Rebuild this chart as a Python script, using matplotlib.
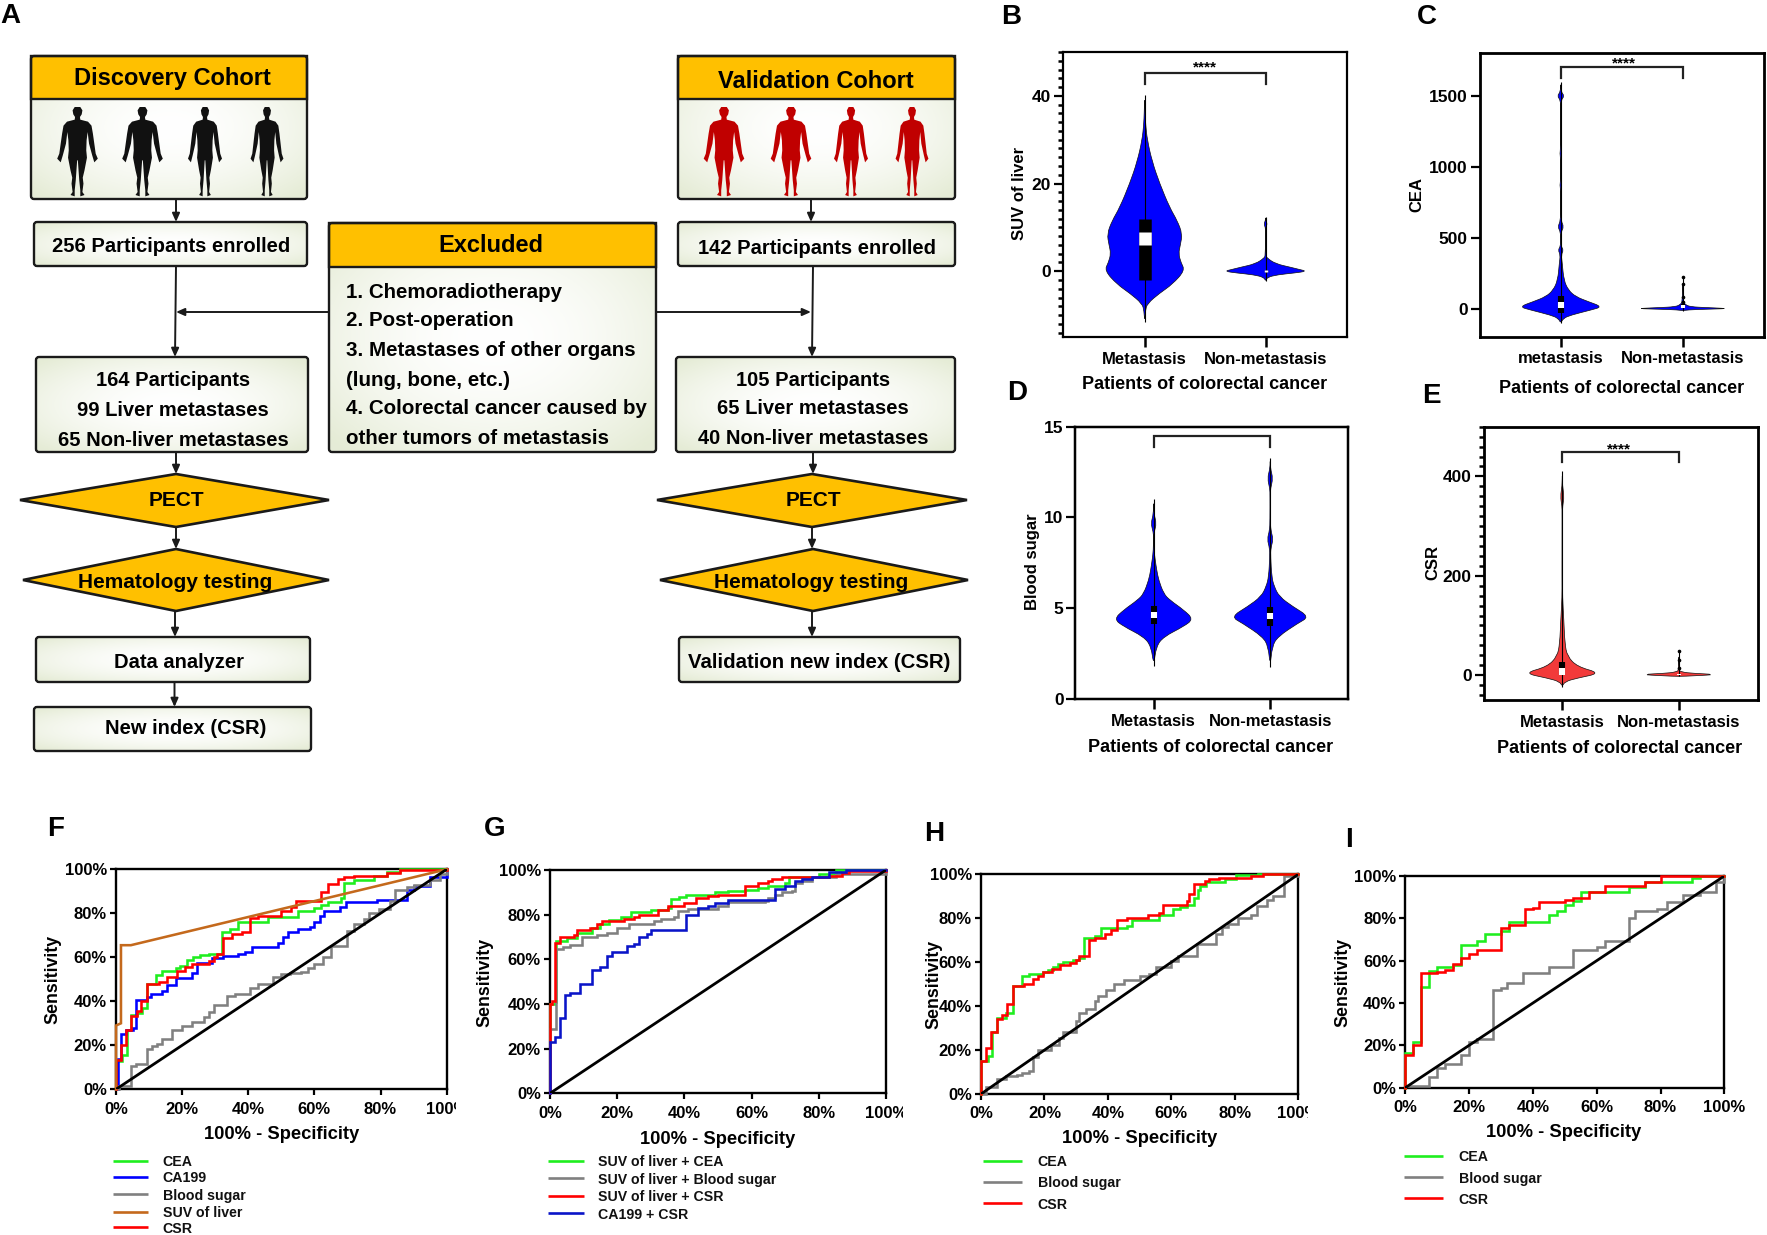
import numpy as np
import matplotlib
matplotlib.use('Agg')
import matplotlib.pyplot as plt
from matplotlib.patches import FancyBboxPatch, Rectangle, Polygon, PathPatch
from matplotlib.path import Path
from matplotlib.ticker import MultipleLocator

plt.rcParams['font.family'] = ['Liberation Sans', 'DejaVu Sans']
plt.rcParams['font.weight'] = 'bold'
plt.rcParams['axes.labelweight'] = 'bold'

W, H = 1767, 1235

# ---------- DATA: violins (value, half width in category units) ----------
cat_labels = ['Metastasis', 'Non-metastasis']
cat_labels_c = ['metastasis', 'Non-metastasis']

b1_y = [40.3, 36, 33.5, 30, 25, 20, 14.5, 11.5, 8.5, 6, 4, 2, 0.15, -3, -5, -7.4, -9, -11.6]
b1_w = [0, .004, .008, .021, .062, .124, .207, .27, .311, .295, .28, .30, .332, .228, .124, .021, .006, 0]
b2_y = [12.4, 11.5, 10.8, 10, 9, 3.6, 3.0, 1.7, 0.9, 0.4, 0, -0.4, -0.8, -1.4, -2.3]
b2_w = [0, .002, .014, .002, .001, .002, .012, .083, .207, .28, .34, .24, .1, .012, 0]
b1_box = (-1.9, 11.8, 6.0, 8.9)
b2_box = (-0.25, 0.25, -0.25, 0.25)

c1_y = [1600, 1530, 1500, 1470, 1400, 1130, 1095, 1060, 900, 872, 840, 720, 620, 578, 540, 484, 440, 414, 380, 320, 202, 131, 85, 50, 14, -9, -45, -68, -103]
c1_w = [0, .002, .03, .002, .001, .001, .008, .001, .001, .008, .001, .002, .002, .025, .002, .003, .003, .022, .004, .012, .025, .062, .123, .226, .34, .247, .082, .02, 0]
c2_y = [226, 50, 30, 14, 8, 3, 0, -3, -8, -14]
c2_w = [.001, .003, .02, .06, .2, .34, .34, .2, .04, 0]
c2_dots = [226, 175, 80, 50]
c1_box = (-28, 90, 2, 50)
c2_box = (5, 30, 8, 25)

d1_y = [11.0, 10.2, 9.67, 9.2, 8.9, 8.2, 7.66, 7.1, 6.55, 5.8, 5.45, 4.9, 4.4, 4.0, 3.43, 2.9, 1.84]
d1_w = [0, .002, .024, .004, .002, .003, .013, .026, .043, .086, .138, .259, .34, .259, .086, .022, 0]
d2_y = [13.25, 12.7, 12.15, 11.6, 11.2, 9.86, 9.3, 8.8, 8.3, 7.84, 6.74, 6.2, 5.64, 5.09, 4.53, 4.17, 3.43, 2.9, 1.78]
d2_w = [0, .002, .024, .003, .002, .002, .005, .026, .005, .004, .013, .034, .078, .194, .336, .237, .065, .017, 0]
d1_box = (4.13, 5.14, 4.46, 4.77)
d2_box = (4.02, 5.05, 4.42, 4.74)

e1_y = [410, 380, 360, 340, 326, 192, 158, 111, 64, 38, 17, 4, -6, -13, -23]
e1_w = [0, .002, .016, .003, .002, .003, .002, .013, .022, .043, .129, .33, .129, .022, 0]
e2_y = [48, 10, 7.4, 4, 1.3, -1.3, -2.7]
e2_w = [.001, .003, .013, .086, .34, .129, 0]
e2_dots = [48, 30, 15]
e1_box = (0, 26, 0.7, 14)
e2_box = (1, 3, 1, 3)

# ---------- DATA: ROC curves ----------
f_cea_x = [0, 0, 1.7, 3.2, 4.4, 6.2, 7.8, 9.3, 12, 13.8, 18, 19.4, 21.4, 23.4, 25.4, 28, 32.2, 34.5, 37, 46, 55, 60, 62, 64, 68, 69, 72, 78, 82, 86, 100]
f_cea_y = [0, 13, 15.6, 27, 34, 34.5, 37, 48, 52, 54, 55, 56, 59, 60, 61, 61.5, 71.7, 73, 76, 78.5, 81, 82.3, 84, 85, 87, 93.6, 95, 97, 99, 100, 100]
f_ca_x = [0, 0.5, 1.4, 3, 5, 6, 9.5, 10.5, 14, 15.5, 18, 23, 24.5, 29, 32.5, 37, 39, 41, 49, 50.6, 52, 55, 58.7, 60, 61.7, 63, 67.7, 69.6, 79, 88, 90, 95, 100]
f_ca_y = [0, 14, 25, 27, 28, 40.5, 42, 43.5, 44.5, 47.5, 50.5, 53, 57.5, 59.5, 60.5, 61.5, 62.5, 64.5, 66.5, 69.4, 71.7, 72.7, 74, 76, 79, 81, 83, 85, 86, 90.6, 92.5, 96.7, 100]
f_bs_x = [0, 1, 4.5, 6, 9.3, 11, 12.5, 14, 17, 20, 23, 26.5, 28, 29.5, 33.5, 36, 40.5, 43, 47.5, 50, 52.5, 56, 58, 60, 62.5, 65, 70, 72, 75, 76.5, 79.5, 83, 84.5, 88, 90, 95, 98, 100]
f_bs_y = [0, 1.5, 10.5, 11.5, 18.5, 19.7, 20.7, 22.7, 27, 29, 30.5, 33, 35, 38.5, 42.5, 43.5, 46, 48, 51, 52.5, 53, 53.5, 55, 57, 60, 65, 72, 75, 77.5, 80, 82, 85.5, 90.5, 92, 93, 95, 98, 100]
f_suv_x = [0, 0, 1.5, 1.5, 4.5, 100]
f_suv_y = [0, 29, 30, 65.5, 65.5, 100]
f_csr_x = [0, 0, 1.5, 3, 4.5, 6.5, 7.5, 9.3, 13, 15.5, 18.5, 21, 23, 28, 29.5, 30.5, 32.5, 35, 38, 40.5, 43, 50, 53, 54.5, 62, 64, 67, 69, 72, 82, 86, 100]
f_csr_y = [0, 13.5, 20, 27, 33.5, 35.5, 40, 48, 49, 51, 54, 55.5, 57, 58.5, 60, 61.5, 69, 70.5, 71.5, 78, 79, 81, 83, 85.5, 89.5, 93.5, 95.5, 96.5, 97, 98.5, 99.5, 100]

g_cea_x = [0, 0, 1.5, 1.8, 5, 8, 12.5, 15, 17.5, 21, 24, 30, 35, 36, 38.5, 40.5, 49, 53, 58, 62, 65, 70, 71, 80, 85, 100]
g_cea_y = [0, 40, 41, 68, 69.5, 72, 74, 76, 77.5, 79, 81, 82, 83, 87, 88, 89, 90, 90.5, 91, 92, 93, 94, 97, 98, 100, 100]
g_bs_x = [0, 0, 1.8, 4, 6, 9.5, 14, 17, 20, 23.5, 31, 33, 37, 38, 41, 50, 53, 64, 65, 67, 69, 72, 73, 75, 78, 85, 100]
g_bs_y = [0, 29, 64.5, 65.5, 66.5, 70, 71, 72, 74, 76, 77, 78, 79, 81.5, 82.5, 84, 85.5, 86, 87.5, 89, 90, 90.5, 94, 95, 97, 98, 100]
g_csr_x = [0, 0, 0.5, 1.5, 3, 7, 8, 12, 14, 15.5, 22, 25, 26.5, 32, 35, 40, 43.5, 47, 50, 58, 62, 65, 66, 69, 83, 87, 89, 100]
g_csr_y = [0, 40, 41.5, 67.5, 70, 71, 73, 74, 76, 77, 78, 79, 80, 82, 84, 85, 87.5, 88.5, 89, 93, 94, 95, 96, 97, 97.5, 98.5, 99.5, 100]
g_ca_x = [0, 0, 1.5, 3, 4.5, 6, 9, 12.5, 15, 17, 18.5, 23, 25, 26.5, 29, 30, 40.5, 44, 47, 49, 53, 67, 70, 73, 75, 78, 83, 88, 100]
g_ca_y = [0, 23, 25, 33.5, 44, 45, 49, 55, 56.5, 61.5, 63.5, 66, 67, 70, 71.5, 73, 80, 83, 84, 85, 86.5, 91.5, 93, 95, 96, 97, 99, 100, 100]

h_cea_x = [0, 0, 2.3, 3.4, 5, 8, 10, 13, 15, 19.6, 21.2, 22.8, 24.4, 26, 29, 31, 32.6, 36, 37.8, 46, 47.7, 56, 60.6, 62.7, 65, 67, 68.5, 69, 71, 77, 80.5, 87.4, 100]
h_cea_y = [0, 15, 17.3, 28, 34.5, 37, 49, 53.5, 54.5, 55.5, 56.5, 58, 59, 60, 61, 61.8, 71, 72, 75.5, 76.5, 79, 81.5, 84, 85, 86, 89, 93, 94.7, 96.7, 98, 99.5, 100, 100]
h_csr_x = [0, 0, 1.7, 3.2, 5, 6.5, 8.2, 10, 13.5, 16.5, 18, 19.5, 22.5, 25, 28, 30, 31, 34, 36, 39, 41, 43, 46, 52.5, 56, 57.5, 65, 65.5, 67, 70.5, 72, 75, 85, 89, 100]
h_csr_y = [0, 15, 21, 28, 34, 36, 41, 49, 50, 52.5, 53.5, 55.5, 57, 58.5, 59.5, 61, 63, 70, 71, 73, 74.5, 79, 80, 81.5, 82.5, 86, 88, 91, 95.5, 97, 98, 98.5, 99, 100, 100]
h_bs_x = [0, 1.5, 5, 8, 11.5, 13, 15, 16.5, 18, 22, 24.5, 26, 30, 31, 33, 36, 37, 39.5, 42, 45, 50, 53, 55, 60, 62, 68, 74, 76, 78, 81, 85, 87, 90, 92, 95.5, 100]
h_bs_y = [0, 3, 7, 8, 8.5, 9.5, 10.5, 17, 20, 22.5, 25.5, 28, 33, 37, 38.5, 42.5, 44.5, 47.5, 50, 52, 53.5, 54.5, 58, 60.5, 63, 68.5, 73, 76, 77.5, 80, 81.5, 85.5, 88.5, 90, 99, 100]

i_cea_x = [0, 0, 2.5, 5, 7.5, 10, 15, 17.5, 22.5, 25, 30, 32.5, 45, 47.5, 50, 52.5, 55, 70, 75, 90, 92.5, 100]
i_cea_y = [0, 16.5, 21.5, 47.5, 55, 57, 58, 67.5, 69.5, 72.5, 74, 78.5, 81.5, 83.5, 86.5, 88, 92.5, 95, 97, 99, 100, 100]
i_csr_x = [0, 0, 2.5, 5, 10, 12.5, 15, 17.5, 20, 22.5, 30, 32.5, 37.5, 40, 42, 50, 52.5, 57.5, 62.5, 75, 80, 100]
i_csr_y = [0, 15.5, 20, 54, 54.5, 55.5, 58.5, 61.5, 63, 65, 75.5, 77, 84.5, 85, 87.5, 88.5, 89.5, 92.5, 95.5, 97, 100, 100]
i_bs_x = [0, 7.5, 10, 12.5, 17.5, 20, 22.5, 27.5, 30, 32, 37, 45, 52.5, 60, 62.5, 70, 72, 79, 82, 87, 92.5, 97.5, 100]
i_bs_y = [1, 5, 9.5, 11, 15.5, 21.5, 23, 46, 47, 49.5, 54, 57, 65, 66.5, 69.5, 80, 83.5, 84.5, 87.5, 91, 92.5, 97, 100]

GREEN, BLUE, GRAY, BROWN, RED = '#1fee1f', '#0000ff', '#808080', '#c4691c', '#ff0000'
NAVY = '#0a14c8'
AMBER = '#ffc000'
DARK = '#1a1a1a'

fig = plt.figure(figsize=(W / 100, H / 100), dpi=100, facecolor='white')

ov = fig.add_axes([0, 0, 1, 1], zorder=10)
ov.set_axis_off()
ov.patch.set_alpha(0)
ov.set_autoscale_on(False)
ov.set_xlim(0, W)
ov.set_ylim(H, 0)


def px_axes(x0, y0, x1, y1):
    return fig.add_axes([x0 / W, 1 - y1 / H, (x1 - x0) / W, (y1 - y0) / H])


def soft_box(x0, y0, x1, y1, header=None):
    n = 40
    yy, xx = np.mgrid[-1:1:n * 1j, -1:1:n * 1j]
    r = np.clip(np.sqrt(xx ** 2 + yy ** 2) / 1.35, 0, 1) ** 1.8
    a = np.array([1.0, 1.0, 1.0])
    b = np.array([0.90, 0.925, 0.84])
    img = a[None, None, :] * (1 - r[..., None]) + b[None, None, :] * r[..., None]
    box = FancyBboxPatch((x0, y0), x1 - x0, y1 - y0, boxstyle='round,pad=0,rounding_size=3',
                         fc='none', ec=DARK, lw=1.7, zorder=3)
    ov.add_patch(box)
    im = ov.imshow(img, extent=(x0, x1, y1, y0), aspect='auto', zorder=1, interpolation='bilinear')
    im.set_clip_path(box)
    ov.set_xlim(0, W)
    ov.set_ylim(H, 0)
    if header is not None:
        ov.add_patch(Rectangle((x0, y0), x1 - x0, header - y0, fc=AMBER, ec=DARK, lw=1.7, zorder=2))


def txt(x, y, s, size=15, ha='center', **kw):
    ov.text(x, y + 2, s, fontsize=size, ha=ha, va='center', color='black', fontweight='bold', zorder=5, **kw)


def diamond(x0, x1, cx, top, mid, bot):
    ov.add_patch(Polygon([(x0, mid), (cx, top), (x1, mid), (cx, bot)], closed=True,
                         fc=AMBER, ec=DARK, lw=1.9, zorder=3))


def arrow(x0, y0, x1, y1):
    ov.annotate('', xy=(x1, y1), xytext=(x0, y0), zorder=2,
                arrowprops=dict(arrowstyle='-|>,head_width=0.22,head_length=0.5', color=DARK, lw=1.4,
                                shrinkA=0, shrinkB=0))


PERSON = [(0, 20), (8, 20), (14, 30), (12, 42), (7, 50), (8, 58), (30, 64), (40, 76), (44, 100), (48, 130),
          (52, 160), (58, 175), (48, 186), (42, 165), (33, 130), (29, 95), (26, 120), (25, 150), (27, 172),
          (20, 210), (15, 232), (17, 250), (14, 275), (20, 284), (8, 288), (8, 270), (5, 240), (1, 180), (0, 180)]


def person(cx, y0, scale, wide, color):
    pts = [(cx + (x / 3) * wide, y0 + (y - 20) / 3 * scale) for x, y in PERSON]
    pts += [(cx - (x / 3) * wide, y0 + (y - 20) / 3 * scale) for x, y in PERSON[::-1]]
    ov.add_patch(Polygon(pts, closed=True, fc=color, ec='none', zorder=4))


# ---------- Panel A flow chart ----------
soft_box(31, 56, 307, 199, header=99)
soft_box(678, 56, 955, 199, header=99)
soft_box(34, 222, 307, 266)
soft_box(678, 222, 955, 266)
soft_box(329, 223, 656, 452, header=267)
soft_box(36, 357, 308, 452)
soft_box(676, 357, 955, 452)
soft_box(36, 637, 310, 682)
soft_box(34, 707, 311, 751)
soft_box(679, 637, 960, 682)

diamond(20, 329, 176, 474, 500, 527)
diamond(23, 329, 176, 549, 580, 611)
diamond(657, 967, 812, 474, 500, 527)
diamond(660, 968, 813, 549, 580, 611)

for cx, wd in zip([77.5, 142.5, 205, 267], [1.05, 1.05, 0.88, 0.85]):
    person(cx, 107, 1.0, wd, '#111111')
for cx, wd in zip([724, 791, 851, 912], [1.05, 1.05, 0.88, 0.85]):
    person(cx, 107, 1.0, wd, '#c00000')

for seg in [(176, 199, 176, 222), (176, 266, 175, 357), (176, 452, 176, 474), (176, 527, 176, 549),
            (175, 611, 175, 637), (174.5, 682, 174.5, 707), (811, 199, 811, 222), (813, 266, 812, 357),
            (813, 452, 813, 474), (812, 527, 812, 549), (812, 611, 812, 637),
            (329, 312, 176, 312), (656, 312, 811, 312)]:
    arrow(*seg)

txt(172, 77, 'Discovery Cohort', 17)
txt(816, 79, 'Validation Cohort', 17)
txt(171, 244, '256 Participants enrolled', 14.5)
txt(817, 246, '142 Participants enrolled', 14.5)
txt(491, 243, 'Excluded', 17)
for yy, s in zip([290, 319, 348, 378, 407, 436],
                 ['1. Chemoradiotherapy', '2. Post-operation', '3. Metastases of other organs',
                  '(lung, bone, etc.)', '4. Colorectal cancer caused by', 'other tumors of metastasis']):
    txt(346, yy, s, 14.8, ha='left')
for yy, s in zip([379, 408, 438], ['164 Participants', '99 Liver metastases', '65 Non-liver metastases']):
    txt(173, yy, s, 14.5)
for yy, s in zip([378, 407, 436], ['105 Participants', '65 Liver metastases', '40 Non-liver metastases']):
    txt(813, yy, s, 14.5)
txt(176, 499, 'PECT', 15)
txt(813, 499, 'PECT', 15)
txt(175, 581, 'Hematology testing', 15)
txt(811, 581, 'Hematology testing', 15)
txt(179, 660, 'Data analyzer', 14.5)
txt(186, 727, 'New index (CSR)', 14.5)
txt(819, 660, 'Validation new index (CSR)', 14.7)

for x, y, s in [(0, 14, 'A'), (1001, 15, 'B'), (1417, 15, 'C'), (1007, 391, 'D'), (1422, 394, 'E'),
                (47, 827, 'F'), (484, 827, 'G'), (924, 832, 'H'), (1345, 838, 'I')]:
    txt(x, y, s, 20, ha='left')


# ---------- Violins ----------
def smooth_patch(xs, ys, **kw):
    P = np.column_stack([xs, ys])
    M = (P + np.roll(P, -1, axis=0)) / 2
    verts = [M[-1]]
    codes = [Path.MOVETO]
    for i in range(len(P)):
        verts += [P[i], M[i]]
        codes += [Path.CURVE3, Path.CURVE3]
    return PathPatch(Path(np.array(verts), codes), **kw)


def violin(ax, pos, y, w, box, color, bw=4.4, dots=None):
    y = np.array(y, float)
    w = np.array(w, float)
    xs = np.r_[pos + w, pos - w[::-1][1:-1]]
    ys = np.r_[y, y[::-1][1:-1]]
    ax.add_patch(smooth_patch(xs, ys, fc=color, ec='#101010', lw=0.5, zorder=3))
    ax.plot([pos, pos], [y.min(), y.max()], color='black', lw=0.8, zorder=4, solid_capstyle='butt')
    ax.plot([pos, pos], [box[0], box[1]], color='black', lw=bw, zorder=5, solid_capstyle='butt')
    ax.plot([pos, pos], [box[2], box[3]], color='white', lw=bw, zorder=6, solid_capstyle='butt')
    if dots:
        ax.plot([pos] * len(dots), dots, 'o', color='black', ms=1.6, zorder=5)


def violin_axes(rect, c1, c2, ylim, yticks, minor, labels, ylabel, ylab_px, xlab_px, bracket, stars, sp_lw=2.2):
    x0, y0, x1, y1 = rect
    ax = px_axes(x0, y0, x1, y1)
    u = c2 - c1
    ax.set_xlim(1 - (c1 - x0) / u, 2 + (x1 - c2) / u)
    ax.set_ylim(*ylim)
    ax.set_xticks([1, 2])
    ax.set_xticklabels(labels, fontsize=12, fontweight='bold')
    ax.set_yticks(yticks)
    ax.set_yticklabels([str(t) for t in yticks], fontsize=12.5, fontweight='bold')
    if minor:
        ax.yaxis.set_minor_locator(MultipleLocator(minor))
    ax.tick_params(axis='x', length=7, width=1.8, pad=3.5)
    ax.tick_params(axis='y', which='major', length=6.5, width=1.6, pad=2)
    ax.tick_params(axis='y', which='minor', length=3.5, width=1.8)
    for s in ax.spines.values():
        s.set_linewidth(sp_lw * 0.72)
    ax.set_ylabel(ylabel, fontsize=12, fontweight='bold', va='center')
    ax.yaxis.set_label_coords(ylab_px[0] + 2.5, ylab_px[1], transform=ov.transData)
    ax.set_xlabel('Patients of colorectal cancer', fontsize=13, fontweight='bold', va='center')
    ax.xaxis.set_label_coords(xlab_px[0], xlab_px[1] + 1.5, transform=ov.transData)
    top, drop = bracket
    ax.plot([1, 1, 2, 2], [drop, top, top, drop], color='#222222', lw=1.6, zorder=3, solid_joinstyle='miter')
    if stars is not None:
        ax.text(stars[0], stars[1], '****', ha='center', va='center', fontsize=11, fontweight='bold')
    return ax


ax = violin_axes((1063, 52, 1346.5, 337), 1144.7, 1265.6, (-15, 50), [0, 20, 40], 2, cat_labels,
                 'SUV of liver', (1017, 193), (1205, 383), (45.2, 42.6), (1.5, 46.4))
violin(ax, 1, b1_y, b1_w, b1_box, BLUE, bw=9)
violin(ax, 2, b2_y, b2_w, b2_box, BLUE, bw=2.5)

ax = violin_axes((1479.5, 52.7, 1764, 336.7), 1560.8, 1682.8, (-197, 1805), [0, 500, 1000, 1500], None, cat_labels_c,
                 'CEA', (1414, 195), (1621.6, 387), (1706, 1629), (1.515, 1726), sp_lw=2.8)
violin(ax, 1, c1_y, c1_w, c1_box, BLUE)
violin(ax, 2, c2_y, c2_w, c2_box, BLUE, bw=3, dots=c2_dots)

ax = violin_axes((1075.4, 426.7, 1348, 699), 1153.7, 1270.2, (0, 15), [0, 5, 10, 15], None, cat_labels,
                 'Blood sugar', (1030, 562), (1211, 745.7), (14.49, 13.9), None, sp_lw=2.5)
violin(ax, 1, d1_y, d1_w, d1_box, BLUE)
violin(ax, 2, d2_y, d2_w, d2_box, BLUE)

ax = violin_axes((1483.5, 426.7, 1757.6, 700), 1562.3, 1678.8, (-50, 500), [0, 200, 400], 20, cat_labels,
                 'CSR', (1430, 563), (1620, 747), (450, 428), (1.49, 455), sp_lw=2.8)
violin(ax, 1, e1_y, e1_w, e1_box, '#f23a3a')
violin(ax, 2, e2_y, e2_w, e2_box, '#f23a3a', bw=3, dots=e2_dots)


# ---------- ROC ----------
def roc_axes(rect, xlab_px, ylab_px):
    x0, y0, x1, y1 = rect
    ax = px_axes(x0, y0, x1, y1)
    ax.set_xlim(0, 100)
    ax.set_ylim(0, 100)
    ticks = [0, 20, 40, 60, 80, 100]
    ax.set_xticks(ticks)
    ax.set_yticks(ticks)
    labs = [f'{t}%' for t in ticks]
    ax.set_xticklabels(labs, fontsize=12, fontweight='bold')
    ax.set_yticklabels(labs, fontsize=12, fontweight='bold')
    ax.tick_params(axis='both', length=4, width=1.6)
    ax.tick_params(axis='x', pad=5)
    ax.tick_params(axis='y', pad=2.5)
    for s in ax.spines.values():
        s.set_linewidth(1.7)
    ax.set_xlabel('100% - Specificity', fontsize=13.2, fontweight='bold', va='center')
    ax.xaxis.set_label_coords(xlab_px[0], xlab_px[1] + 2.5, transform=ov.transData)
    ax.set_ylabel('Sensitivity', fontsize=12.8, fontweight='bold', va='center')
    ax.yaxis.set_label_coords(ylab_px[0] + 2.5, ylab_px[1], transform=ov.transData)
    return ax


def curve(ax, x, y, color, step=True):
    kw = dict(color=color, lw=1.85, clip_on=False, zorder=3, solid_joinstyle='miter')
    if step:
        ax.step(x, y, where='post', **kw)
    else:
        ax.plot(x, y, **kw)


def diag(ax):
    ax.plot([0, 100], [0, 100], color='black', lw=2.0, zorder=4)


def legend(x0, x1, xt, ys, names, colors):
    for yy, n, c in zip(ys, names, colors):
        ov.plot([x0, x1], [yy, yy], color=c, lw=1.9, solid_capstyle='butt')
        ov.text(xt, yy + 1.5, n, fontsize=10.2, fontweight='bold', va='center', ha='left', color='#111111')


ax = roc_axes((116, 869.3, 446.7, 1089.3), (281.7, 1132), (50, 979))
curve(ax, f_cea_x, f_cea_y, GREEN)
curve(ax, f_ca_x, f_ca_y, BLUE)
curve(ax, f_bs_x, f_bs_y, GRAY)
diag(ax)
curve(ax, f_csr_x, f_csr_y, RED)
curve(ax, f_suv_x, f_suv_y, BROWN, step=False)
legend(113, 148, 162.7, [1160.7, 1176.7, 1194.3, 1211.7, 1227.3],
       ['CEA', 'CA199', 'Blood sugar', 'SUV of liver', 'CSR'], [GREEN, BLUE, GRAY, BROWN, RED])

ax = roc_axes((550, 870, 886, 1093.3), (718, 1137), (482, 982))
curve(ax, g_cea_x, g_cea_y, GREEN)
curve(ax, g_bs_x, g_bs_y, GRAY)
curve(ax, g_csr_x, g_csr_y, RED)
curve(ax, g_ca_x, g_ca_y, NAVY)
diag(ax)
legend(548.3, 584.3, 598.3, [1160.7, 1178.3, 1195.7, 1213.3],
       ['SUV of liver + CEA', 'SUV of liver + Blood sugar', 'SUV of liver + CSR', 'CA199 + CSR'],
       [GREEN, GRAY, RED, NAVY])

ax = roc_axes((981, 874.3, 1298.3, 1094), (1140, 1136), (931, 984))
curve(ax, h_bs_x, h_bs_y, GRAY)
curve(ax, h_cea_x, h_cea_y, GREEN)
curve(ax, h_csr_x, h_csr_y, RED)
diag(ax)
legend(982.7, 1021.7, 1037.7, [1160.7, 1181.7, 1203.3], ['CEA', 'Blood sugar', 'CSR'], [GREEN, GRAY, RED])

ax = roc_axes((1405.3, 876, 1724.3, 1087.7), (1564, 1130), (1340, 982))
curve(ax, i_bs_x, i_bs_y, GRAY)
curve(ax, i_cea_x, i_cea_y, GREEN)
curve(ax, i_csr_x, i_csr_y, RED)
diag(ax)
legend(1403.7, 1443, 1458.7, [1155.7, 1177.3, 1198.3], ['CEA', 'Blood sugar', 'CSR'], [GREEN, GRAY, RED])

# the cut-off right-hand tick labels of panels F, G and H
for x0, x1, y0, y1 in [(456, 476, 1098, 1120), (903, 925, 1098, 1125), (1308, 1330, 1098, 1125)]:
    ov.add_patch(Rectangle((x0, y0), x1 - x0, y1 - y0, fc='white', ec='none', zorder=8))

ov.set_xlim(0, W)
ov.set_ylim(H, 0)
fig.savefig('out.png', dpi=100)
